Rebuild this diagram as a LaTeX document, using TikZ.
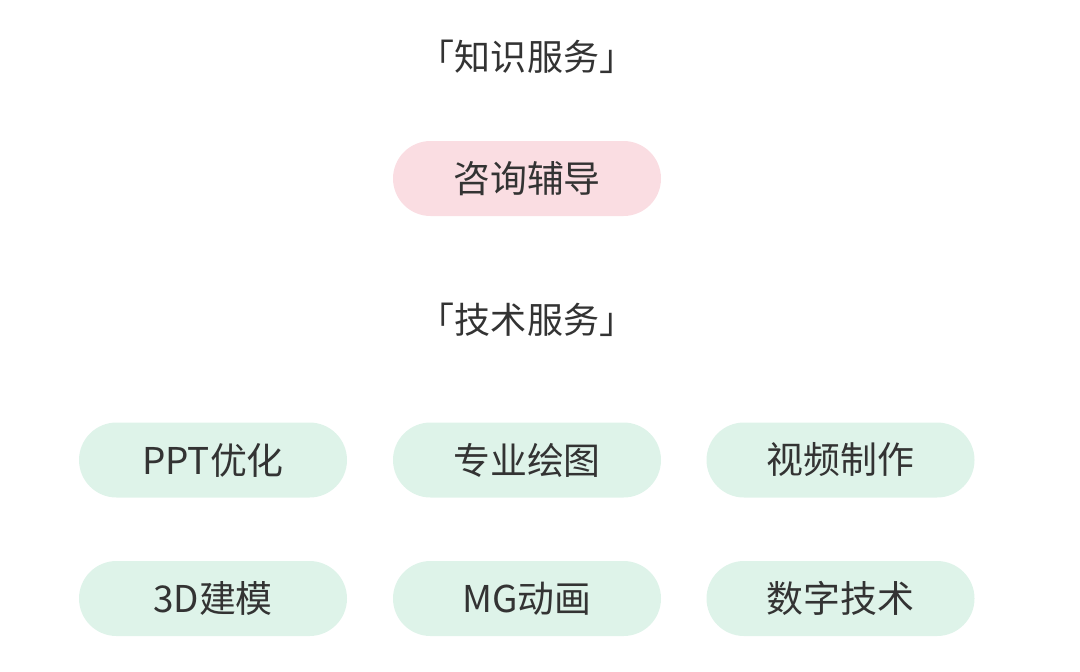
\documentclass[tikz,border=0pt]{standalone}
\usepackage{fontspec}
\setmainfont{Noto Sans CJK SC}
\usetikzlibrary{positioning}
\definecolor{PillPink}{RGB}{250, 221, 226}
\definecolor{PillGreen}{RGB}{222, 243, 233}
\definecolor{TextGray}{RGB}{51, 51, 51}

\begin{document}
\begin{tikzpicture}[
  pill/.style={rounded corners=0.75cm, minimum width=5.36cm, minimum height=1.5cm,
    inner sep=0pt, text=TextGray, font=\fontsize{21}{25}\selectfont},
  heading/.style={text=TextGray, font=\fontsize{20.5}{24}\selectfont}
  ]
  % Canvas
  \useasboundingbox (0, 0) rectangle (21.6, -13.42);

  % Knowledge services
  \node[heading] (know) at (10.54, -1.14) {「知识服务」};
  \node[pill, fill=PillPink] (consult) at (10.54, -3.57) {咨询辅导};

  % Technical services
  \node[heading] (tech) at (10.54, -6.40) {「技术服务」};

  % First row
  \node[pill, fill=PillGreen] (ppt) at (4.26, -9.20) {PPT优化};
  \node[pill, fill=PillGreen] (draw) at (10.54, -9.20) {专业绘图};
  \node[pill, fill=PillGreen] (video) at (16.81, -9.20) {视频制作};

  % Second row
  \node[pill, fill=PillGreen] (model) at (4.26, -11.97) {3D建模};
  \node[pill, fill=PillGreen] (mg) at (10.54, -11.97) {MG动画};
  \node[pill, fill=PillGreen] (digit) at (16.81, -11.97) {数字技术};
\end{tikzpicture}
\end{document}
